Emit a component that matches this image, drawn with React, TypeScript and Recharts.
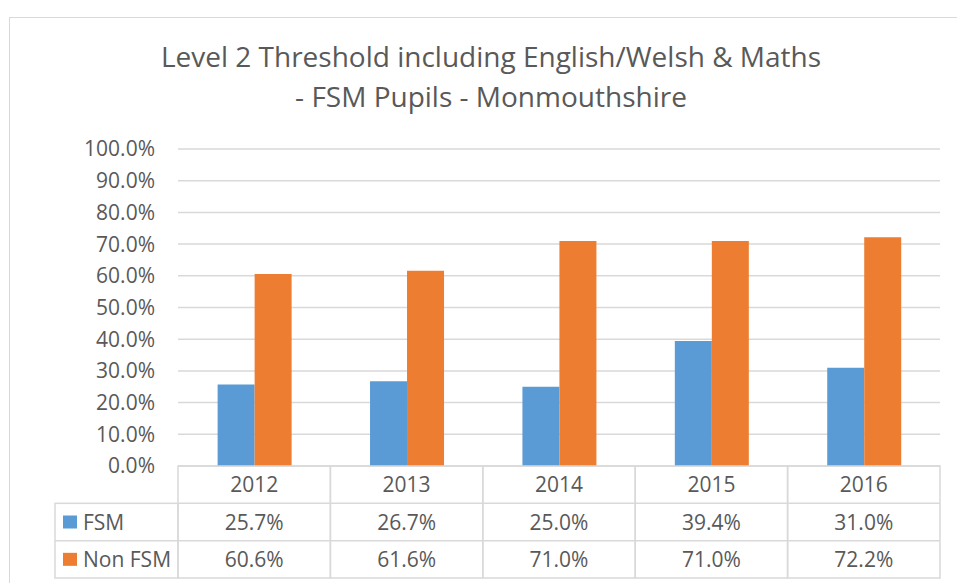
import React from 'react';
import { BarChart, Bar, XAxis, YAxis, CartesianGrid } from 'recharts';

const categories = ['2012', '2013', '2014', '2015', '2016'];
const fsmValues = [25.7, 26.7, 25.0, 39.4, 31.0];
const nonFsmValues = [60.6, 61.6, 71.0, 71.0, 72.2];
const yTicks = [0, 10, 20, 30, 40, 50, 60, 70, 80, 90, 100];
const seriesNames = ['FSM', 'Non FSM'];
const seriesColors = ['#5B9BD5', '#ED7D31'];

const data = categories.map((c, i) => ({ year: c, fsm: fsmValues[i], nonFsm: nonFsmValues[i] }));

const W = 957;
const H = 583;
const PLOT_LEFT = 178;
const PLOT_RIGHT = 940;
const PLOT_TOP = 149;
const TABLE_H = 112;
const BAND = (PLOT_RIGHT - PLOT_LEFT) / categories.length;
const ROW_H = TABLE_H / 3;
const LEGEND_COL_W = 123;
const GRID = '#D9D9D9';
const TEXT = '#595959';
const FONT = '"Open Sans", sans-serif';
const FS = 21;

const fmt = (v: number) => `${v.toFixed(1)}%`;

const TableTick = (props: any) => {
  const { x, y, payload, index } = props;
  const left = x - BAND / 2;
  const i = categories.indexOf(payload.value);
  const rowVals = [fsmValues[i], nonFsmValues[i]];
  return (
    <g>
      <rect x={left} y={y} width={BAND} height={TABLE_H} fill="none" stroke={GRID} strokeWidth={1.5} />
      <line x1={left} x2={left + BAND} y1={y + ROW_H} y2={y + ROW_H} stroke={GRID} strokeWidth={1.5} />
      <line x1={left} x2={left + BAND} y1={y + 2 * ROW_H} y2={y + 2 * ROW_H} stroke={GRID} strokeWidth={1.5} />
      <text x={x} y={y + ROW_H / 2} dy="0.36em" textAnchor="middle" fill={TEXT} fontSize={FS} fontFamily={FONT}>
        {payload.value}
      </text>
      {rowVals.map((v, r) => (
        <text key={r} x={x} y={y + ROW_H * (r + 1.5)} dy="0.36em" textAnchor="middle" fill={TEXT} fontSize={FS} fontFamily={FONT}>
          {fmt(v)}
        </text>
      ))}
      {index === 0 && (
        <g>
          <rect x={left - LEGEND_COL_W} y={y + ROW_H} width={LEGEND_COL_W} height={2 * ROW_H} fill="none" stroke={GRID} strokeWidth={1.5} />
          <line x1={left - LEGEND_COL_W} x2={left} y1={y + 2 * ROW_H} y2={y + 2 * ROW_H} stroke={GRID} strokeWidth={1.5} />
          {seriesNames.map((n, r) => (
            <g key={n}>
              <rect x={left - LEGEND_COL_W + 8} y={y + ROW_H * (r + 1.5) - 6.5} width={14} height={13} fill={seriesColors[r]} />
              <text x={left - LEGEND_COL_W + 28} y={y + ROW_H * (r + 1.5)} dy="0.36em" textAnchor="start" fill={TEXT} fontSize={FS} fontFamily={FONT}>
                {n}
              </text>
            </g>
          ))}
        </g>
      )}
    </g>
  );
};

export default function App() {
  return (
    <div style={{ position: 'absolute', left: 0, top: 0, width: W, height: H, background: '#fff', overflow: 'hidden' }}>
      <div
        style={{
          position: 'absolute',
          left: 9,
          top: 17,
          width: W,
          height: H,
          borderLeft: `1.5px solid ${GRID}`,
          borderTop: `1.5px solid ${GRID}`,
        }}
      />
      <div
        style={{
          position: 'absolute',
          left: 0,
          top: 36,
          width: 982,
          textAlign: 'center',
          color: TEXT,
          fontFamily: FONT,
          fontSize: 28,
          lineHeight: '40px',
        }}
      >
        <div>Level 2 Threshold including English/Welsh &amp; Maths</div>
        <div>- FSM Pupils - Monmouthshire</div>
      </div>
      <div style={{ position: 'absolute', left: 0, top: 0 }}>
        <BarChart
          width={W}
          height={H}
          data={data}
          margin={{ top: PLOT_TOP, right: W - PLOT_RIGHT, bottom: H - PLOT_TOP - 317 - TABLE_H, left: 0 }}
          barCategoryGap="26%"
          barGap={0}
        >
          <CartesianGrid vertical={false} stroke={GRID} strokeWidth={1.5} />
          <YAxis
            width={PLOT_LEFT}
            domain={[0, 100]}
            ticks={yTicks}
            interval={0}
            tickFormatter={fmt}
            axisLine={false}
            tickLine={false}
            tickSize={0}
            tickMargin={23}
            tick={{ fill: TEXT, fontSize: FS, fontFamily: FONT }}
          />
          <XAxis
            dataKey="year"
            height={TABLE_H}
            axisLine={false}
            tickLine={false}
            tickSize={0}
            tickMargin={0}
            interval={0}
            tick={<TableTick />}
          />
          <Bar dataKey="fsm" name={seriesNames[0]} fill={seriesColors[0]} isAnimationActive={false} />
          <Bar dataKey="nonFsm" name={seriesNames[1]} fill={seriesColors[1]} isAnimationActive={false} />
        </BarChart>
      </div>
    </div>
  );
}
